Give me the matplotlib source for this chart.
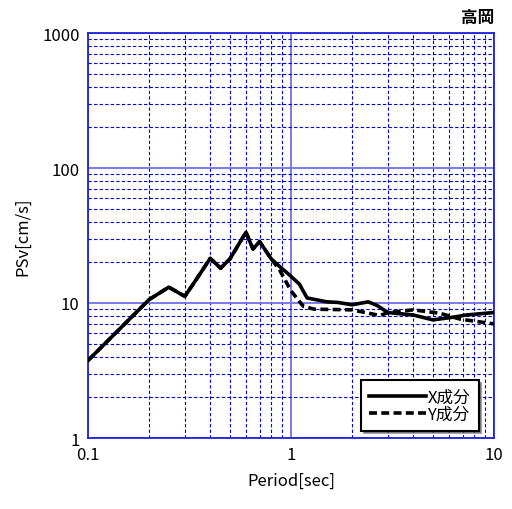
import matplotlib
matplotlib.use("Agg")
import matplotlib.pyplot as plt
from matplotlib.ticker import LogLocator, FixedLocator, NullFormatter

plt.rcParams['font.family'] = ['Noto Sans CJK JP', 'DejaVu Sans']

period_x = [0.1, 0.2, 0.25, 0.3, 0.35, 0.4, 0.45, 0.5, 0.6, 0.65, 0.7, 0.8, 0.88,
            0.98, 1.1, 1.2, 1.5, 1.7, 2.0, 2.4, 2.65, 3.0, 4.0, 5.0, 6.3, 7.3, 10.0]
psv_x = [3.75, 10.6, 13.1, 11.2, 15.8, 21.4, 18.1, 21.2, 33.4, 25.1, 28.5, 21.2, 18.6,
         16.2, 13.8, 10.9, 10.2, 10.1, 9.7, 10.2, 9.6, 8.5, 8.15, 7.5, 7.85, 8.15, 8.5]

period_y = [0.1, 0.2, 0.25, 0.3, 0.35, 0.4, 0.45, 0.5, 0.6, 0.65, 0.7, 0.8, 0.88,
            1.0, 1.15, 1.3, 2.0, 2.75, 3.0, 4.0, 5.4, 6.8, 10.0]
psv_y = [3.75, 10.6, 13.1, 11.2, 15.8, 21.4, 18.1, 21.2, 33.4, 25.1, 28.5, 21.2, 17.5,
         12.3, 9.45, 9.0, 8.9, 8.07, 8.5, 8.9, 8.4, 7.6, 7.0]

labels = ["X成分", "Y成分"]
title = "高岡"

fig = plt.figure(figsize=(5.12, 5.10), dpi=100)
ax = fig.add_axes([88/512, 1-439/510, 406/512, 405/510])
ax.set_xscale('log')
ax.set_yscale('log')
ax.set_xlim(0.1, 10)
ax.set_ylim(1, 1000)

ax.plot(period_x, psv_x, color='black', lw=2.6, label=labels[0], zorder=5)
ax.plot(period_y, psv_y, color='black', lw=2.6, ls=(0, (2.2, 1.2)), label=labels[1], zorder=4)

ax.xaxis.set_major_locator(FixedLocator([0.1, 1, 10]))
ax.yaxis.set_major_locator(FixedLocator([1, 10, 100, 1000]))
ax.xaxis.set_minor_locator(LogLocator(base=10, subs=range(2, 10)))
ax.yaxis.set_minor_locator(LogLocator(base=10, subs=range(2, 10)))
ax.xaxis.set_minor_formatter(NullFormatter())
ax.yaxis.set_minor_formatter(NullFormatter())
ax.set_xticklabels(["0.1", "1", "10"])
ax.set_yticklabels(["1", "10", "100", "1000"])
ax.tick_params(which='both', length=0, labelsize=12, pad=6)
ax.grid(which='major', color='#7070ee', lw=1.3, ls='-')
ax.grid(which='minor', color='#0000dd', lw=0.8, ls=(0, (3, 2)))
for s in ax.spines.values():
    s.set_color('#2020dd')
    s.set_linewidth(1.3)

ax.set_xlabel("Period[sec]", fontsize=12, labelpad=6)
ax.set_ylabel("PSv[cm/s]", fontsize=12, labelpad=8)

leg = ax.legend(loc='lower right', bbox_to_anchor=(0.962, 0.018), borderaxespad=0,
                fontsize=12, frameon=True, fancybox=False, shadow=True,
                handlelength=3.4, handletextpad=0.1, borderpad=0.5, labelspacing=0.0)
leg.get_frame().set_edgecolor('black')
leg.get_frame().set_linewidth(1.5)
leg.set_zorder(10)

fig.text(494/512, 1-18/510, title, ha='right', va='center', fontsize=12, fontweight='bold')

fig.savefig("out.png", dpi=100)
